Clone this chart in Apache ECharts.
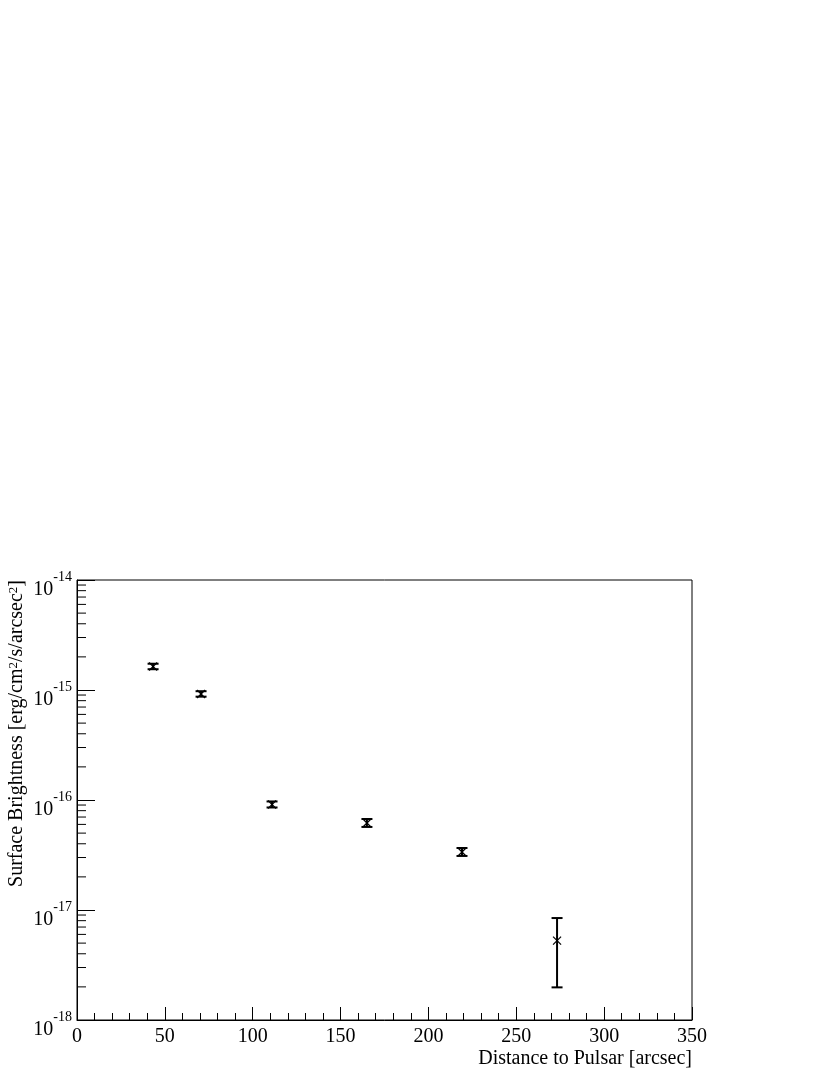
<!DOCTYPE html>
<html>
<head>
<meta charset="utf-8">
<script src="https://cdn.jsdelivr.net/npm/echarts@6/dist/echarts.min.js"></script>
<style>
  html, body { margin: 0; padding: 0; background: #fff; }
  #chart { width: 830px; height: 1075px; }
</style>
</head>
<body>
<div id="chart"></div>
<script>
// distance to pulsar [arcsec]
const distance = [43.3, 70.6, 111.0, 165.0, 219.1, 273.2]
// surface brightness and its error range
const brightness = [1.637e-15, 9.2e-16, 9.1e-17, 6.18e-17, 3.37e-17, 5.26e-18]
const brightLow = [1.545e-15, 8.7e-16, 8.55e-17, 5.69e-17, 3.1e-17, 1.98e-18]
const brightHigh = [1.733e-15, 9.75e-16, 9.7e-17, 6.72e-17, 3.66e-17, 8.45e-18]

const xTicks = [0, 50, 100, 150, 200, 250, 300, 350]
const yDecades = [-18, -17, -16, -15, -14]

const font = '"Liberation Serif", "DejaVu Serif", serif'

// minor ticks of the log axis at 2..9 of each decade
const yMinor = []
yDecades.slice(0, -1).forEach(e => {
  for (let k = 2; k <= 9; k++) yMinor.push([0, k * Math.pow(10, e)])
})

const chart = echarts.init(document.getElementById('chart'), null, { renderer: 'canvas' })

chart.setOption({
  backgroundColor: '#fff',
  animation: false,
  grid: { left: 77, right: 138, top: 580, bottom: 55, show: true, borderColor: '#000', borderWidth: 1, backgroundColor: 'transparent' },
  xAxis: {
    type: 'value',
    min: xTicks[0],
    max: xTicks[xTicks.length - 1],
    interval: 50,
    name: 'Distance to Pulsar [arcsec]',
    nameLocation: 'end',
    nameGap: 0,
    nameMoveOverlap: false,
    nameTextStyle: { fontFamily: font, fontSize: 20, color: '#000', align: 'right', verticalAlign: 'top', padding: [29, 0, 0, 0] },
    axisLine: { show: true, lineStyle: { color: '#000', width: 1 } },
    axisTick: { show: true, inside: true, length: 13, lineStyle: { color: '#000' } },
    minorTick: { show: true, splitNumber: 5, length: 7, lineStyle: { color: '#000' } },
    splitLine: { show: false },
    axisLabel: { fontFamily: font, fontSize: 20, color: '#000', margin: 7, showMinLabel: true, showMaxLabel: true }
  },
  yAxis: {
    type: 'log',
    logBase: 10,
    min: Math.pow(10, yDecades[0]),
    max: Math.pow(10, yDecades[yDecades.length - 1]),
    splitNumber: 4,
    name: 'Surface Brightness [erg/cm{s|2}/s/arcsec{s|2}]',
    nameLocation: 'end',
    nameGap: 0,
    nameRotate: 90,
    nameMoveOverlap: false,
    nameTextStyle: {
      fontFamily: font, fontSize: 20, color: '#000', align: 'right', verticalAlign: 'bottom', padding: [0, 0, 50, 0],
      rich: { s: { fontFamily: font, fontSize: 13, verticalAlign: 'top', color: '#000' } }
    },
    axisLine: { show: true, lineStyle: { color: '#000', width: 1 } },
    axisTick: { show: true, inside: true, length: 18, lineStyle: { color: '#000' } },
    splitLine: { show: false },
    axisLabel: {
      margin: 5,
      padding: [10, 0, 0, 0],
      showMinLabel: true,
      showMaxLabel: true,
      formatter: v => '{b|10}{s|' + Math.round(Math.log10(v)) + '}',
      rich: {
        b: { fontFamily: font, fontSize: 20, color: '#000', lineHeight: 29, verticalAlign: 'bottom' },
        s: { fontFamily: font, fontSize: 14, color: '#000', lineHeight: 15, verticalAlign: 'top' }
      }
    }
  },
  series: [
    {
      type: 'custom',
      silent: true,
      clip: false,
      data: yMinor,
      renderItem: (params, api) => {
        const p = api.coord([api.value(0), api.value(1)])
        return { type: 'line', shape: { x1: p[0], y1: p[1], x2: p[0] + 9, y2: p[1] }, style: { stroke: '#000', lineWidth: 1 } }
      }
    },
    {
      type: 'custom',
      silent: true,
      data: distance.map((d, i) => [d, brightness[i], brightLow[i], brightHigh[i]]),
      renderItem: (params, api) => {
        const x = api.value(0)
        const c = api.coord([x, api.value(1)])
        const lo = api.coord([x, api.value(2)])
        const hi = api.coord([x, api.value(3)])
        const w = 5.5, m = 4
        const bar = { stroke: '#000', lineWidth: 2 }
        const mk = { stroke: '#000', lineWidth: 1.2 }
        return {
          type: 'group',
          children: [
            { type: 'line', shape: { x1: c[0], y1: lo[1], x2: c[0], y2: hi[1] }, style: bar },
            { type: 'line', shape: { x1: c[0] - w, y1: lo[1], x2: c[0] + w, y2: lo[1] }, style: bar },
            { type: 'line', shape: { x1: c[0] - w, y1: hi[1], x2: c[0] + w, y2: hi[1] }, style: bar },
            { type: 'line', shape: { x1: c[0] - m, y1: c[1] - m, x2: c[0] + m, y2: c[1] + m }, style: mk },
            { type: 'line', shape: { x1: c[0] - m, y1: c[1] + m, x2: c[0] + m, y2: c[1] - m }, style: mk }
          ]
        }
      }
    }
  ]
})
</script>
</body>
</html>
